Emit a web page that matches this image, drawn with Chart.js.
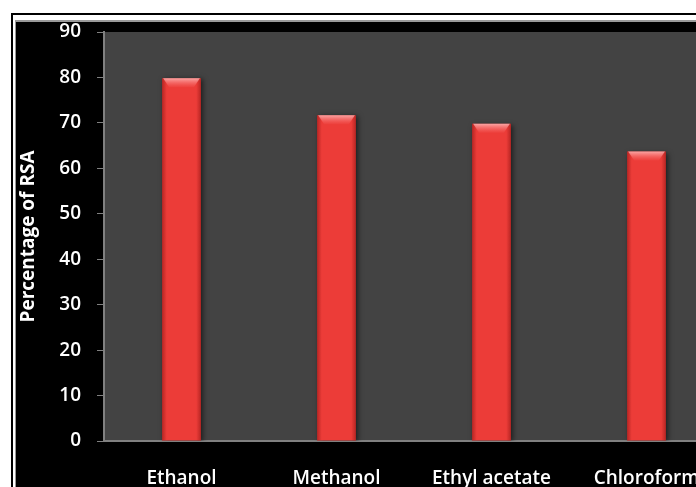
<!DOCTYPE html>
<html>
<head>
<meta charset="utf-8">
<script src="https://cdn.jsdelivr.net/npm/chart.js@4/dist/chart.umd.min.js"></script>
<style>
html,body{margin:0;padding:0;background:#fff;overflow:hidden;width:696px;height:487px;}
#c{position:absolute;left:0;top:0;}
</style>
</head>
<body>
<canvas id="c" width="760" height="487"></canvas>
<script>
const categories = ["Ethanol", "Methanol", "Ethyl acetate", "Chloroform"];
const rsaValues = [79.8, 71.7, 69.8, 63.7];
const yTicks = [0, 10, 20, 30, 40, 50, 60, 70, 80, 90];
const yTitle = "Percentage of RSA";

const FONT = "'Open Sans', Lato, sans-serif";

const framePlugin = {
  id: 'frame',
  beforeDraw(chart) {
    const ctx = chart.ctx, W = chart.width, H = chart.height, a = chart.chartArea;
    ctx.save();
    ctx.fillStyle = '#ffffff';
    ctx.fillRect(0, 0, W, H);
    ctx.fillStyle = '#000000';
    ctx.fillRect(11, 13, W, 2);
    ctx.fillRect(11, 13, 2, H);
    ctx.fillStyle = '#9a9a9a';
    ctx.fillRect(15, 20, W, H);
    ctx.fillStyle = '#000000';
    ctx.fillRect(16, 22, W, H);
    ctx.fillStyle = '#434343';
    ctx.fillRect(a.left, a.top, a.right - a.left, a.bottom - a.top);
    ctx.restore();
  },
  beforeDatasetsDraw(chart) {
    const ctx = chart.ctx;
    ctx.save();
    ctx.shadowColor = 'rgba(0,0,0,0.55)';
    ctx.shadowBlur = 5;
    ctx.shadowOffsetX = 2;
    ctx.shadowOffsetY = 1;
  },
  afterDatasetsDraw(chart) {
    const ctx = chart.ctx;
    ctx.restore();
    const meta = chart.getDatasetMeta(0);
    meta.data.forEach(bar => {
      const w = bar.width, x0 = bar.x - w / 2, y0 = bar.y, bottom = bar.base;
      ctx.save();
      const g = ctx.createLinearGradient(x0, 0, x0 + w, 0);
      g.addColorStop(0, 'rgba(120,10,10,0.45)');
      g.addColorStop(0.12, 'rgba(120,10,10,0.0)');
      g.addColorStop(0.88, 'rgba(120,10,10,0.0)');
      g.addColorStop(1, 'rgba(120,10,10,0.45)');
      ctx.fillStyle = g;
      ctx.fillRect(x0, y0, w, bottom - y0);
      const gv = ctx.createLinearGradient(0, y0, 0, y0 + 10);
      gv.addColorStop(0, 'rgba(255,200,200,0.75)');
      gv.addColorStop(1, 'rgba(255,120,120,0)');
      ctx.fillStyle = gv;
      ctx.beginPath();
      ctx.moveTo(x0 + 1, y0);
      ctx.lineTo(x0 + w - 1, y0);
      ctx.lineTo(x0 + w - 7, y0 + 9);
      ctx.lineTo(x0 + 7, y0 + 9);
      ctx.closePath();
      ctx.fill();
      ctx.restore();
    });
  }
};

new Chart(document.getElementById('c'), {
  type: 'bar',
  data: {
    labels: categories,
    datasets: [{
      data: rsaValues,
      backgroundColor: '#ec3c38',
      borderWidth: 0,
      categoryPercentage: 0.5,
      barPercentage: 0.5
    }]
  },
  options: {
    responsive: false,
    animation: false,
    layout: { padding: { top: 32, right: 36, bottom: 0, left: 0 } },
    plugins: { legend: { display: false }, tooltip: { enabled: false } },
    scales: {
      x: {
        grid: { display: false, drawTicks: false },
        border: { display: true, color: '#808080', width: 2 },
        ticks: {
          color: '#ffffff',
          padding: 26,
          maxRotation: 0,
          autoSkip: false,
          font: { family: FONT, size: 19, weight: 600 }
        },
        afterFit(s) { s.height = 46; }
      },
      y: {
        min: 0,
        max: 90,
        afterBuildTicks(s) { s.ticks = yTicks.map(v => ({ value: v })); },
        grid: { drawOnChartArea: false, drawTicks: true, tickLength: 7, tickColor: '#808080' },
        border: { display: true, color: '#808080', width: 2 },
        ticks: {
          color: '#ffffff',
          padding: 16,
          font: { family: FONT, size: 19, weight: 600 }
        },
        title: {
          display: true,
          text: yTitle,
          color: '#ffffff',
          padding: { top: 17, bottom: 0 },
          font: { family: FONT, size: 19, weight: 'bold' }
        },
        afterFit(s) { s.width = 104; }
      }
    }
  },
  plugins: [framePlugin]
});
</script>
</body>
</html>
